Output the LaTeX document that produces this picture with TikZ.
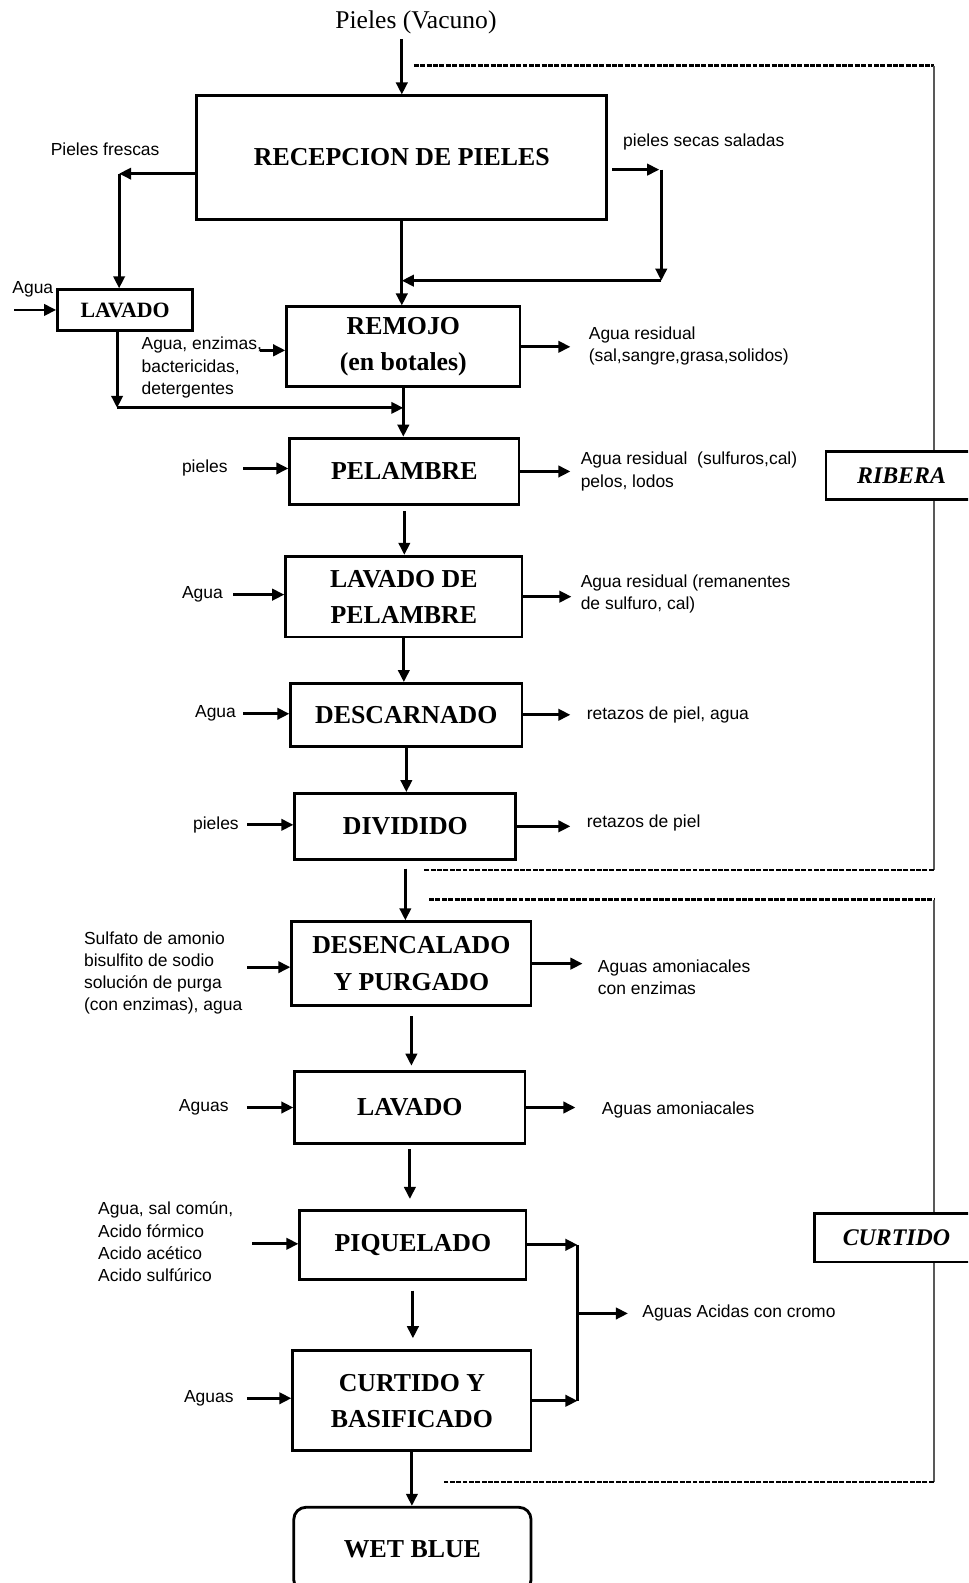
\documentclass[tikz,border=0pt]{standalone}
\usepackage{fontspec}
\setmainfont{Liberation Serif}
\newfontfamily\etiqfont{Liberation Sans}
\usepackage{tikz}
\usetikzlibrary{arrows.meta, calc}

\def\px{0.025cm}

\begin{document}
\begin{tikzpicture}[x=0.025cm, y=-0.025cm,
  caja/.style={draw, line width=2pt, fill=white, align=center, inner sep=0pt,
    font=\fontsize{18.2}{25.6}\selectfont\bfseries},
  etiq/.style={anchor=west, align=left, inner sep=0pt,
    font=\etiqfont\fontsize{12.3}{15.6}\selectfont},
  etapa/.style={draw, line width=1.8pt, fill=white, inner sep=0pt, minimum height=48*\px,
    font=\fontsize{16.8}{20}\selectfont\bfseries\itshape},
  flecha/.style={-{Triangle[length=8.5pt,width=8pt]}, line width=2pt},
  limite/.style={line width=1.6pt, dash pattern=on 3.5pt off 1pt},
  borde/.style={line width=1pt, black!65}]

  \path[use as bounding box, clip] (0,0) rectangle (959,1568);

     % -------------------------
     % Stage brackets (RIBERA / CURTIDO)
     % -------------------------
      \coordinate (r1) at (410,65);
      \coordinate (r2) at (925,65);
      \coordinate (r3) at (925,862);
      \coordinate (r4) at (420,862);
      \draw[limite] (r1) -- (r2);
      \draw[borde] (r2) -- (r3);
      \draw[limite] (r3) -- (r4);

      \coordinate (c1) at (425,891);
      \coordinate (c2) at (925,891);
      \coordinate (c3) at (925,1468);
      \coordinate (c4) at (440,1468);
      \draw[limite] (c1) -- (c2);
      \draw[borde] (c2) -- (c3);
      \draw[limite] (c3) -- (c4);

      \node[etapa, minimum width=150*\px] (ribera) at (893,471) {RIBERA};
      \node[etapa, minimum width=162*\px] (curtetapa) at (888,1226) {CURTIDO};

     % -------------------------
     % Process boxes
     % -------------------------
      \node[font=\fontsize{18}{22}\selectfont] (titulo) at (412,22) {Pieles (Vacuno)};
      \node[caja, minimum width=406*\px, minimum height=122*\px] (recep) at (398,156) {RECEPCION DE PIELES};
      \node[caja, font=\fontsize{15.4}{18}\selectfont\bfseries, minimum width=134*\px, minimum height=40*\px] (lav1) at (124,307) {LAVADO};
      \node[caja, minimum width=231*\px, minimum height=79*\px] (remojo) at (399.5,343.5) {REMOJO\\(en botales)};
      \node[caja, minimum width=227*\px, minimum height=66*\px] (pelambre) at (400.5,467) {PELAMBRE};
      \node[caja, minimum width=234*\px, minimum height=80*\px] (lavpel) at (400,591) {LAVADO DE\\PELAMBRE};
      \node[caja, minimum width=229*\px, minimum height=62*\px] (descarn) at (402.5,708) {DESCARNADO};
      \node[caja, minimum width=219*\px, minimum height=65*\px] (dividido) at (401.5,818.5) {DIVIDIDO};
      \node[caja, minimum width=237*\px, minimum height=83*\px] (desenc) at (407.5,954.5) {DESENCALADO\\Y PURGADO};
      \node[caja, minimum width=228*\px, minimum height=72*\px] (lavado) at (406,1097) {LAVADO};
      \node[caja, minimum width=224*\px, minimum height=68*\px] (piquel) at (409,1233) {PIQUELADO};
      \node[caja, minimum width=236*\px, minimum height=99*\px] (curtido) at (408,1387.5) {CURTIDO Y\\BASIFICADO};
      \node[caja, rounded corners=12*\px, minimum width=235*\px, minimum height=84*\px] (wetblue) at (408.5,1535) {WET BLUE};

     % -------------------------
     % Labels
     % -------------------------
      \node[etiq] (frescas) at (50,148) {Pieles frescas};
      \node[etiq] (secas) at (617,141) {pieles secas saladas};
      \node[etiq] (agua0) at (12,287) {Agua};
      \node[etiq] (inRem) at (140,364) {Agua, enzimas,\\bactericidas,\\detergentes};
      \node[etiq] (outRem) at (583,342.5) {Agua residual\\(sal,sangre,grasa,solidos)};
      \node[etiq] (inPel) at (180,464) {pieles};
      \node[etiq] (outPel) at (575,467) {Agua residual~ (sulfuros,cal)\\pelos, lodos};
      \node[etiq] (inLavPel) at (180,589) {Agua};
      \node[etiq] (outLavPel) at (575,588) {Agua residual (remanentes\\de sulfuro, cal)};
      \node[etiq] (inDes) at (193,707) {Agua};
      \node[etiq] (outDes) at (581,708) {retazos de piel, agua};
      \node[etiq] (inDiv) at (191,817) {pieles};
      \node[etiq] (outDiv) at (581,815) {retazos de piel};
      \node[etiq] (inDesenc) at (83,964) {Sulfato de amonio\\bisulfito de sodio\\solución de purga\\(con enzimas), agua};
      \node[etiq] (outDesenc) at (592,968) {Aguas amoniacales\\ con enzimas};
      \node[etiq] (inLav) at (177,1097) {Aguas};
      \node[etiq] (outLav) at (596,1099) {Aguas amoniacales};
      \node[etiq] (inPiq) at (97,1230) {Agua, sal común,\\Acido fórmico\\Acido acético\\Acido sulfúrico};
      \node[etiq] (inCur) at (182,1385) {Aguas};
      \node[etiq] (outAcid) at (636,1301) {Aguas Acidas con cromo};

     % -------------------------
     % Reception and washing
     % -------------------------
      \draw[flecha] (titulo.south -| recep.north) -- (recep.north);

      \coordinate (izq) at (118,172);
      \draw[flecha] (recep.west |- izq) -- (izq);
      \draw[flecha] (izq) -- (izq |- lav1.north);

      \coordinate (der1) at (655,168);
      \coordinate (der2) at (655,278);
      \draw[flecha, shorten <=4*\px, shorten >=2*\px] (recep.east |- der1) -- (der1);
      \draw[flecha] (der1) -- (der2);
      \draw[flecha] (der2) -- (der2 -| recep.south);
      \draw[flecha] (recep.south) -- (recep.south |- remojo.north);

      \coordinate (agua0a) at (14,307);
      \draw[flecha] (agua0a) -- (agua0a -| lav1.west);

      \coordinate (abajo) at (116,404);
      \draw[flecha] (lav1.south -| abajo) -- (abajo);
      \draw[flecha] (abajo) -- (abajo -| remojo.south);

      \coordinate (inRemA) at (258,347);
      \draw[flecha] (inRemA) -- (inRemA -| remojo.west);
      \draw[flecha, shorten >=18*\px] (remojo.east) -- (remojo.east -| outRem.west);

     % -------------------------
     % Main line
     % -------------------------
      \draw[flecha] (remojo.south) -- (remojo.south |- pelambre.north);
      \draw[flecha, shorten <=5*\px] (pelambre.south) -- (pelambre.south |- lavpel.north);
      \draw[flecha] (lavpel.south) -- (lavpel.south |- descarn.north);
      \draw[flecha] (descarn.south) -- (descarn.south |- dividido.north);
      \draw[flecha, shorten <=8*\px] (dividido.south) -- (dividido.south |- desenc.north);
      \draw[flecha, shorten <=9*\px, shorten >=4*\px] (desenc.south) -- (desenc.south |- lavado.north);
      \draw[flecha, shorten <=4*\px, shorten >=10*\px] (lavado.south) -- (lavado.south |- piquel.north);
      \draw[flecha, shorten <=10*\px, shorten >=11*\px] (piquel.south) -- (piquel.south |- curtido.north);
      \draw[flecha] (curtido.south) -- (curtido.south |- wetblue.north);

     % -------------------------
     % Inputs (left)
     % -------------------------
      \draw[flecha] ([xshift=15*\px]inPel.east) -- (inPel.east -| pelambre.west);
      \draw[flecha] ([xshift=10*\px]inLavPel.east) -- (inLavPel.east -| lavpel.west);
      \draw[flecha] ([xshift=7*\px]inDes.east) -- (inDes.east -| descarn.west);
      \draw[flecha] ([xshift=8*\px]inDiv.east) -- (inDiv.east -| dividido.west);
      \coordinate (inDesencA) at (245,958);
      \draw[flecha] (inDesencA) -- (inDesencA -| desenc.west);
      \draw[flecha] ([xshift=18*\px]inLav.east) -- (inLav.east -| lavado.west);
      \coordinate (inPiqA) at (250,1232);
      \draw[flecha] (inPiqA) -- (inPiqA -| piquel.west);
      \draw[flecha] ([xshift=13*\px]inCur.east) -- (inCur.east -| curtido.west);

     % -------------------------
     % Outputs (right)
     % -------------------------
      \draw[flecha, shorten >=10*\px] (pelambre.east) -- (pelambre.east -| outPel.west);
      \draw[flecha, shorten >=9*\px] (lavpel.east) -- (lavpel.east -| outLavPel.west);
      \draw[flecha, shorten >=16*\px] (descarn.east) -- (descarn.east -| outDes.west);
      \draw[flecha, shorten >=16*\px] (dividido.east) -- (dividido.east -| outDiv.west);
      \draw[flecha, shorten >=15*\px] (desenc.east) -- (desenc.east -| outDesenc.west);
      \draw[flecha, shorten >=26*\px] (lavado.east) -- (lavado.east -| outLav.west);

      % chrome waters collector
      \coordinate (col1) at (572,1233);
      \coordinate (col2) at (572,1387.5);
      \coordinate (col3) at (572,1301);
      \draw[flecha] (piquel.east) -- (col1);
      \draw[flecha] (curtido.east) -- (col2);
      \draw[line width=2pt] (col1) -- (col2);
      \draw[flecha, shorten >=14*\px] (col3) -- (col3 -| outAcid.west);
\end{tikzpicture}
\end{document}
